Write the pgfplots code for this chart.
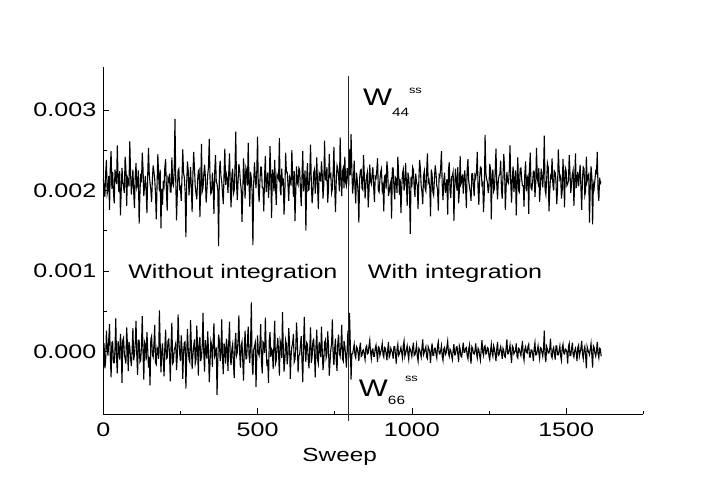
\documentclass[border=0pt]{standalone}
\usepackage{fontspec}
\setmainfont{Liberation Sans}[FakeStretch=1.28]
\usepackage{pgfplots}
\usepackage{pgfplotstable}
\pgfplotsset{compat=1.18}

\newcommand{\lbl}{\fontsize{19.6}{23}\selectfont}

% W44^ss, units of 1e-4, one value every 2.5 sweeps
\pgfplotstableread[row sep=\\]{y\\
21.5\\ 20.4\\ 19.2\\ 22.1\\ 23.8\\ 19.6\\ 20.1\\ 21.8\\ 17.6\\ 22.9\\ 24.9\\ 20.2\\ 22.3\\ 19.9\\ 18.4\\ 22.6\\ 21.7\\ 20.8\\ 25.6\\ 21.3\\ 19.8\\ 22.4\\ 16.9\\ 20.0\\ 22.8\\ 21.1\\ 20.4\\ 19.7\\ 24.2\\ 22.8\\ 18.1\\ 21.6\\ 21.3\\ 20.5\\ 26.1\\ 22.2\\ 19.5\\ 20.9\\ 22.6\\ 19.8\\
17.8\\ 21.7\\ 23.4\\ 20.3\\ 20.7\\ 22.5\\ 15.9\\ 19.5\\ 22.1\\ 21.0\\ 24.7\\ 22.7\\ 19.3\\ 20.6\\ 21.8\\ 19.9\\ 17.2\\ 21.9\\ 25.3\\ 22.0\\ 20.9\\ 20.1\\ 18.6\\ 21.4\\ 23.1\\ 22.3\\ 21.4\\ 19.6\\ 16.4\\ 20.7\\ 24.5\\ 21.8\\ 19.9\\ 22.6\\ 15.3\\ 20.2\\ 18.2\\ 21.2\\ 20.6\\ 22.9\\
23.9\\ 20.0\\ 17.5\\ 21.5\\ 21.2\\ 22.1\\ 19.8\\ 19.8\\ 24.1\\ 20.9\\ 20.6\\ 22.4\\ 28.9\\ 21.3\\ 16.3\\ 19.7\\ 22.5\\ 22.7\\ 20.2\\ 20.4\\ 18.7\\ 21.6\\ 25.1\\ 22.2\\ 21.6\\ 19.9\\ 14.2\\ 20.8\\ 23.6\\ 22.5\\ 19.4\\ 21.0\\ 22.9\\ 20.3\\ 17.3\\ 21.9\\ 24.8\\ 22.8\\ 20.5\\ 19.6\\
18.9\\ 21.2\\ 22.4\\ 22.6\\ 16.7\\ 20.5\\ 25.8\\ 19.9\\ 20.3\\ 22.0\\ 23.2\\ 21.7\\ 18.5\\ 20.1\\ 21.9\\ 22.9\\ 26.4\\ 21.4\\ 19.6\\ 19.8\\ 22.2\\ 20.6\\ 17.1\\ 22.3\\ 24.4\\ 21.1\\ 20.8\\ 20.0\\ 13.1\\ 22.4\\ 23.7\\ 21.8\\ 21.1\\ 19.7\\ 18.3\\ 22.1\\ 25.2\\ 20.7\\ 22.0\\ 21.5\\
19.7\\ 22.2\\ 24.6\\ 20.4\\ 17.9\\ 21.9\\ 22.7\\ 19.6\\ 20.0\\ 22.7\\ 27.3\\ 20.9\\ 18.8\\ 21.3\\ 23.3\\ 22.5\\ 21.0\\ 20.2\\ 16.1\\ 19.7\\ 24.0\\ 21.6\\ 19.0\\ 22.8\\ 22.4\\ 20.6\\ 25.9\\ 21.0\\ 18.0\\ 22.3\\ 21.5\\ 19.9\\ 13.2\\ 20.8\\ 23.5\\ 21.7\\ 20.3\\ 22.4\\ 26.7\\ 20.1\\
18.6\\ 21.1\\ 22.9\\ 22.9\\ 20.4\\ 20.3\\ 17.4\\ 21.8\\ 24.3\\ 19.8\\ 21.2\\ 22.2\\ 19.1\\ 20.7\\ 25.5\\ 21.5\\ 16.6\\ 22.6\\ 22.0\\ 19.9\\ 23.8\\ 20.5\\ 18.2\\ 22.0\\ 21.7\\ 21.4\\ 26.5\\ 20.1\\ 19.4\\ 22.7\\ 20.9\\ 21.2\\ 17.0\\ 19.6\\ 24.7\\ 22.3\\ 22.3\\ 20.8\\ 18.7\\ 21.7\\
21.4\\ 20.6\\ 25.0\\ 21.9\\ 19.2\\ 22.4\\ 16.2\\ 19.7\\ 23.0\\ 21.0\\ 20.7\\ 22.8\\ 22.6\\ 20.2\\ 18.1\\ 21.6\\ 24.9\\ 19.9\\ 21.1\\ 22.5\\ 15.0\\ 21.3\\ 23.4\\ 20.0\\ 20.1\\ 22.1\\ 25.7\\ 20.9\\ 18.4\\ 19.8\\ 22.2\\ 22.6\\ 19.6\\ 21.5\\ 24.1\\ 20.4\\ 17.7\\ 22.2\\ 21.9\\ 21.1\\
23.6\\ 22.0\\ 19.0\\ 20.7\\ 26.2\\ 21.4\\ 21.3\\ 22.9\\ 18.5\\ 20.1\\ 24.5\\ 21.8\\ 22.0\\ 19.7\\ 20.2\\ 22.3\\ 25.4\\ 20.5\\ 17.3\\ 21.2\\ 23.1\\ 22.7\\ 21.8\\ 19.9\\ 26.6\\ 21.6\\ 19.3\\ 22.4\\ 22.8\\ 20.3\\ 24.2\\ 21.0\\ 20.6\\ 22.8\\ 21.7\\ 20.6\\ 25.1\\ 21.9\\ 27.0\\ 22.5\\
19.6\\ 21.0\\ 23.7\\ 20.3\\ 18.4\\ 22.2\\ 21.2\\ 19.8\\ 16.0\\ 21.5\\ 22.5\\ 22.6\\ 20.3\\ 20.1\\ 24.4\\ 21.9\\ 19.0\\ 20.7\\ 21.8\\ 22.3\\ 17.9\\ 19.9\\ 23.2\\ 21.2\\ 20.8\\ 22.0\\ 22.9\\ 20.4\\ 18.6\\ 21.7\\ 21.5\\ 22.5\\ 24.0\\ 20.0\\ 19.8\\ 21.3\\ 22.3\\ 22.7\\ 20.1\\ 20.6\\
17.4\\ 21.8\\ 21.9\\ 20.2\\ 23.6\\ 22.4\\ 19.3\\ 19.9\\ 20.7\\ 21.1\\ 16.5\\ 22.8\\ 22.8\\ 20.5\\ 18.9\\ 21.6\\ 21.4\\ 19.7\\ 24.2\\ 22.1\\ 19.5\\ 21.4\\ 17.2\\ 20.3\\ 22.1\\ 22.6\\ 20.0\\ 20.8\\ 23.4\\ 21.0\\ 18.1\\ 22.2\\ 21.6\\ 19.8\\ 14.6\\ 21.7\\ 20.4\\ 22.9\\ 22.6\\ 20.4\\
19.2\\ 22.1\\ 21.0\\ 20.6\\ 17.7\\ 21.3\\ 23.8\\ 22.7\\ 20.5\\ 19.9\\ 18.3\\ 21.8\\ 22.4\\ 20.2\\ 19.9\\ 22.4\\ 24.6\\ 21.0\\ 21.3\\ 20.5\\ 16.8\\ 22.6\\ 22.0\\ 19.8\\ 19.4\\ 21.5\\ 23.1\\ 22.2\\ 20.6\\ 20.1\\ 17.5\\ 21.9\\ 21.7\\ 22.8\\ 24.9\\ 20.7\\ 18.8\\ 21.2\\ 22.2\\ 19.7\\
20.3\\ 21.4\\ 17.0\\ 22.5\\ 23.5\\ 20.0\\ 19.1\\ 21.7\\ 21.8\\ 22.3\\ 16.2\\ 20.4\\ 22.7\\ 21.1\\ 20.0\\ 22.9\\ 18.4\\ 19.9\\ 24.3\\ 20.8\\ 21.1\\ 22.0\\ 19.6\\ 21.6\\ 22.5\\ 20.3\\ 17.8\\ 22.7\\ 23.9\\ 21.2\\ 20.4\\ 19.8\\ 18.7\\ 22.1\\ 22.1\\ 20.6\\ 19.3\\ 21.9\\ 21.6\\ 22.4\\
24.8\\ 20.2\\ 18.2\\ 21.5\\ 22.9\\ 22.8\\ 20.7\\ 20.9\\ 17.3\\ 19.7\\ 26.9\\ 22.2\\ 21.4\\ 21.0\\ 19.7\\ 20.5\\ 23.3\\ 22.6\\ 16.4\\ 21.8\\ 22.6\\ 19.9\\ 20.2\\ 22.4\\ 25.2\\ 20.7\\ 18.9\\ 21.3\\ 21.9\\ 22.0\\ 23.7\\ 20.1\\ 19.0\\ 21.7\\ 24.5\\ 22.9\\ 17.6\\ 20.4\\ 22.3\\ 21.1\\
20.9\\ 22.3\\ 25.6\\ 20.8\\ 18.5\\ 21.6\\ 23.0\\ 19.8\\ 21.2\\ 22.5\\ 16.9\\ 21.2\\ 24.1\\ 20.0\\ 19.8\\ 22.7\\ 22.8\\ 21.4\\ 20.6\\ 20.6\\ 18.0\\ 22.1\\ 23.6\\ 19.9\\ 21.5\\ 21.8\\ 17.1\\ 22.6\\ 24.7\\ 20.3\\ 20.1\\ 21.0\\ 22.4\\ 22.4\\ 19.2\\ 20.9\\ 25.3\\ 21.5\\ 21.0\\ 22.8\\
18.6\\ 20.5\\ 22.7\\ 21.9\\ 20.4\\ 22.2\\ 26.8\\ 20.1\\ 19.5\\ 21.3\\ 23.4\\ 22.9\\ 17.4\\ 19.8\\ 21.8\\ 21.6\\ 24.0\\ 20.7\\ 20.0\\ 22.4\\ 22.2\\ 21.1\\ 18.3\\ 20.2\\ 25.1\\ 22.6\\ 21.4\\ 21.7\\ 19.0\\ 20.0\\ 23.9\\ 21.4\\ 17.9\\ 22.8\\ 22.5\\ 20.6\\ 20.8\\ 21.2\\ 24.4\\ 22.1\\
19.7\\ 20.9\\ 22.0\\ 22.5\\ 18.1\\ 21.0\\ 24.6\\ 20.3\\ 21.3\\ 22.3\\ 20.5\\ 21.8\\ 23.2\\ 20.4\\ 17.6\\ 21.5\\ 22.9\\ 22.7\\ 19.4\\ 19.9\\ 24.2\\ 21.2\\ 21.7\\ 22.0\\ 16.0\\ 20.6\\ 23.0\\ 21.7\\ 15.8\\ 20.8\\ 20.3\\ 21.3\\ 22.4\\ 22.2\\ 24.8\\ 20.0\\ 18.7\\ 21.6\\ 20.9\\ 21.1\\
}\wff

% W66^ss, units of 1e-4
\pgfplotstableread[row sep=\\]{y\\
0.8\\ 0.9\\ -2.1\\ -1.2\\ 2.6\\ 0.4\\ -0.5\\ 1.5\\ 3.4\\ -0.6\\ -3.2\\ 1.1\\ 1.2\\ -1.4\\ -1.4\\ 0.2\\ 4.1\\ -0.8\\ -2.7\\ 1.3\\ 0.3\\ -1.0\\ 2.2\\ 0.6\\ -3.9\\ 1.4\\ 1.7\\ -0.3\\ -0.9\\ -1.5\\ 3.0\\ 0.8\\ -2.4\\ 1.2\\ 0.6\\ -0.9\\ -1.8\\ 0.1\\ 2.9\\ -1.1\\
-0.4\\ 1.0\\ 3.8\\ -0.5\\ -2.9\\ 1.4\\ 1.4\\ -1.3\\ -1.1\\ 0.7\\ 4.4\\ -0.2\\ -3.5\\ 1.2\\ 0.9\\ -1.1\\ 2.4\\ 0.3\\ -2.0\\ -0.7\\ -4.2\\ 1.5\\ 1.9\\ -0.4\\ -0.7\\ 0.9\\ 3.3\\ -1.4\\ -1.6\\ 0.5\\ 0.2\\ -0.9\\ 5.1\\ 1.1\\ -2.6\\ 0.0\\ 1.0\\ -1.2\\ -3.1\\ 0.6\\
2.7\\ -0.9\\ -0.8\\ 1.3\\ 1.5\\ -0.4\\ -3.7\\ 0.8\\ 3.6\\ -1.5\\ -1.3\\ 0.2\\ 0.5\\ 1.0\\ -2.3\\ -0.6\\ 4.6\\ 1.4\\ -0.2\\ -1.2\\ 2.0\\ 0.5\\ -3.4\\ -0.1\\ 1.1\\ 1.2\\ -4.6\\ -0.8\\ 2.8\\ 0.3\\ -1.0\\ -1.3\\ 3.9\\ 0.9\\ -2.2\\ -0.5\\ 0.7\\ 1.5\\ -1.5\\ -1.0\\
3.2\\ 0.4\\ -3.0\\ 1.1\\ 1.8\\ -1.2\\ -0.6\\ 0.7\\ 4.8\\ -0.3\\ -2.5\\ 1.4\\ 0.1\\ -0.9\\ 2.5\\ 0.1\\ -3.8\\ -1.4\\ 1.3\\ 0.8\\ -1.9\\ 1.2\\ 3.5\\ -0.6\\ -0.3\\ 0.5\\ -5.4\\ -1.1\\ 2.1\\ 1.3\\ -1.2\\ -0.2\\ 4.0\\ -0.8\\ -2.8\\ 1.0\\ 0.4\\ -1.5\\ 1.6\\ 0.6\\
-2.4\\ 1.2\\ 3.7\\ -0.8\\ -1.7\\ 0.3\\ 0.9\\ -1.3\\ -3.3\\ 1.0\\ 2.3\\ -0.5\\ -0.1\\ 1.5\\ 4.5\\ -0.1\\ -2.0\\ 0.7\\ 1.2\\ -1.2\\ -3.6\\ 0.4\\ 2.6\\ -0.9\\ -0.9\\ 1.3\\ 3.1\\ -0.4\\ -1.4\\ 0.9\\ 6.1\\ -1.4\\ -2.9\\ 0.2\\ 0.6\\ 1.1\\ -4.4\\ -0.7\\ 2.0\\ -0.2\\
-0.5\\ 0.8\\ 3.4\\ -1.3\\ -2.7\\ 1.2\\ 1.0\\ -0.2\\ 4.2\\ 0.5\\ -1.8\\ -1.0\\ -3.9\\ 1.4\\ 2.4\\ -0.7\\ 0.3\\ 0.1\\ -2.2\\ 1.0\\ 3.8\\ -1.5\\ -1.1\\ 0.6\\ 1.7\\ -0.3\\ -3.0\\ 1.3\\ 0.8\\ -0.8\\ 4.9\\ 0.4\\ -2.5\\ -1.1\\ 1.4\\ 0.9\\ -1.6\\ -0.4\\ 2.9\\ 1.2\\
-3.4\\ -0.6\\ 0.6\\ 1.0\\ 2.2\\ -1.3\\ -1.0\\ 0.3\\ 3.6\\ 1.4\\ -2.6\\ -0.5\\ -0.4\\ 0.7\\ 1.9\\ -1.2\\ -3.8\\ 0.9\\ 4.3\\ -0.1\\ -1.3\\ 1.1\\ 0.9\\ -0.9\\ -2.1\\ 0.5\\ 3.0\\ -1.4\\ -0.7\\ 1.3\\ 1.5\\ -0.3\\ -3.2\\ 0.6\\ 2.7\\ -1.0\\ -1.5\\ 1.2\\ 0.4\\ -0.7\\
3.1\\ 0.2\\ -2.3\\ -1.1\\ 1.1\\ 1.4\\ -0.8\\ -0.4\\ 2.5\\ 0.8\\ -3.0\\ -1.3\\ 0.2\\ 1.0\\ 4.0\\ -0.6\\ -1.7\\ 0.4\\ 1.6\\ -1.2\\ -2.4\\ 1.1\\ 2.1\\ -0.2\\ -0.6\\ 0.7\\ 3.3\\ -0.9\\ -1.2\\ 1.3\\ 0.7\\ -0.5\\ -2.0\\ 0.3\\ 2.6\\ -0.8\\ 4.8\\ 1.0\\ -3.5\\ -0.3\\
-0.3\\ 0.3\\ 0.9\\ -0.5\\ -0.8\\ 0.6\\ 0.4\\ -0.2\\ -1.2\\ 0.4\\ 1.1\\ -0.6\\ -0.5\\ 0.1\\ 0.2\\ -0.4\\ -1.0\\ 0.5\\ 0.7\\ -0.3\\ -0.2\\ 0.7\\ 1.4\\ -0.1\\ -0.9\\ 0.2\\ 0.3\\ -0.6\\ -0.6\\ 0.4\\ 0.8\\ -0.2\\ -1.3\\ 0.6\\ 0.5\\ -0.5\\ -0.1\\ 0.3\\ 1.0\\ -0.4\\
-0.7\\ 0.5\\ 0.4\\ -0.3\\ -1.1\\ 0.2\\ 1.2\\ -0.7\\ -0.4\\ 0.4\\ 0.1\\ -0.1\\ -0.9\\ 0.6\\ 0.6\\ -0.4\\ -1.5\\ 0.3\\ 0.9\\ -0.5\\ -0.3\\ 0.1\\ 0.5\\ -0.2\\ -0.8\\ 0.7\\ 1.3\\ -0.6\\ -0.2\\ 0.2\\ 0.7\\ -0.3\\ -1.0\\ 0.5\\ 0.3\\ -0.1\\ -0.6\\ 0.4\\ 1.1\\ -0.5\\
-0.4\\ 0.1\\ 0.8\\ -0.6\\ -1.2\\ 0.4\\ 0.2\\ -0.2\\ -0.7\\ 0.5\\ 1.5\\ -0.4\\ -0.1\\ 0.3\\ 0.6\\ -0.7\\ -0.9\\ 0.6\\ 0.3\\ -0.1\\ -1.4\\ 0.2\\ 1.0\\ -0.5\\ -0.5\\ 0.4\\ 0.4\\ -0.3\\ -0.8\\ 0.7\\ 1.2\\ -0.2\\ -0.3\\ 0.1\\ 0.7\\ -0.6\\ -1.1\\ 0.3\\ 0.5\\ -0.4\\
-0.2\\ 0.6\\ 1.3\\ -0.2\\ -0.6\\ 0.3\\ 0.1\\ -0.5\\ -1.0\\ 0.1\\ 0.9\\ -0.4\\ -0.4\\ 0.5\\ 0.6\\ -0.3\\ -1.3\\ 0.7\\ 0.3\\ -0.6\\ -0.7\\ 0.2\\ 1.1\\ -0.1\\ -0.1\\ 0.4\\ 0.5\\ -0.5\\ -0.9\\ 0.3\\ 0.8\\ -0.7\\ -1.5\\ 0.6\\ 0.4\\ -0.2\\ -0.3\\ 0.1\\ 1.0\\ -0.3\\
-0.8\\ 0.4\\ 0.2\\ -0.5\\ -1.1\\ 0.2\\ 1.4\\ -0.1\\ -0.5\\ 0.6\\ 0.7\\ -0.3\\ -0.2\\ 0.5\\ 0.4\\ -0.6\\ -1.0\\ 0.1\\ 0.9\\ -0.2\\ -0.6\\ 0.7\\ 0.3\\ -0.4\\ -1.2\\ 0.3\\ 1.2\\ -0.5\\ -0.4\\ 0.2\\ 0.6\\ -0.1\\ -0.9\\ 0.4\\ 0.1\\ -0.6\\ -0.7\\ 0.5\\ 1.5\\ -0.3\\
-0.3\\ 0.2\\ 0.8\\ -0.4\\ -1.4\\ 0.7\\ 0.5\\ -0.3\\ -0.1\\ 0.1\\ 1.0\\ -0.6\\ -0.8\\ 0.4\\ 0.3\\ -0.2\\ -0.5\\ 0.5\\ 1.3\\ -0.5\\ -1.1\\ 0.3\\ 0.6\\ -0.1\\ -0.2\\ 0.6\\ 0.9\\ -0.7\\ -0.7\\ 0.2\\ 0.2\\ -0.3\\ -1.2\\ 0.4\\ 1.1\\ -0.4\\ -0.4\\ 0.1\\ 0.7\\ -0.2\\
-0.9\\ 0.5\\ 0.4\\ -0.1\\ -0.6\\ 0.3\\ 2.6\\ -0.6\\ -1.3\\ 0.6\\ 0.3\\ -0.2\\ -0.2\\ 0.4\\ 1.6\\ -0.5\\ -0.8\\ 0.2\\ 0.5\\ -0.3\\ -1.0\\ 0.7\\ 0.7\\ -0.4\\ -0.4\\ 0.1\\ 0.7\\ -0.6\\ -1.1\\ 0.5\\ 0.9\\ -0.2\\ -0.3\\ 0.3\\ 0.2\\ -0.1\\ -1.5\\ 0.6\\ 1.0\\ -0.5\\
-0.5\\ 0.3\\ 1.1\\ -0.4\\ -0.7\\ 0.1\\ 0.4\\ -0.2\\ -1.2\\ 0.5\\ 0.8\\ -0.6\\ -0.1\\ 0.4\\ 1.3\\ -0.3\\ -0.9\\ 0.2\\ 0.6\\ -0.5\\ -2.1\\ 0.6\\ 0.2\\ -0.1\\ -0.4\\ 0.3\\ 1.0\\ -0.4\\ -2.0\\ 0.7\\ 0.5\\ -0.2\\ -0.6\\ 0.1\\ 1.2\\ -0.3\\ -0.8\\ 0.4\\ 0.3\\ -0.6\\
}\wss

\begin{document}
\begin{tikzpicture}
\path[use as bounding box] (-103.3pt,-75.7pt) rectangle (605.7pt,414.3pt);
\begin{axis}[
    scale only axis,
    width=540pt,
    height=347pt,
    xmin=0, xmax=1750,
    ymin=-7.8, ymax=35.3,
    axis lines*=left,
    axis line style={line width=0.8pt},
    xtick={0,500,1000,1500},
    xticklabels={0,500,1000,1500},
    minor xtick={250,750,1250,1750},
    ytick={0,10,20,30},
    yticklabels={0.000,0.001,0.002,0.003},
    minor ytick={5,15,25},
    tick align=inside,
    major tick length=6pt,
    minor tick length=3.5pt,
    tick style={black, line width=0.7pt},
    ticklabel style={font=\lbl},
    xticklabel style={yshift=-5pt},
    yticklabel style={xshift=-3.5pt},
    clip=false,
]
\addplot[black, line width=1.1pt] table[x expr=\coordindex*2.525, y=y] {\wff};
\addplot[black, line width=1.1pt] table[x expr=\coordindex*2.525, y=y] {\wss};
\addplot[black!85, line width=0.8pt] coordinates {(795,-8.6) (795,34.2)};

\node[anchor=base, font=\lbl] at (axis cs:420,9.03) {Without integration};
\node[anchor=base, font=\lbl] at (axis cs:1140,9.03) {With integration};
\node[anchor=base west, inner sep=0pt] at (axis cs:841,30.5)
  {{\fontsize{24}{24}\selectfont W}\raisebox{-10.7pt}{\fontsize{12}{12}\selectfont 44}\raisebox{12.7pt}{\fontsize{10}{10}\selectfont ss}};
\node[anchor=base west, inner sep=0pt] at (axis cs:828,-5.6)
  {{\fontsize{24}{24}\selectfont W}\raisebox{-8.3pt}{\fontsize{12}{12}\selectfont 66}\raisebox{14.7pt}{\fontsize{10}{10}\selectfont ss}};
\node[anchor=base, font=\fontsize{19}{22}\selectfont] at (axis cs:766,-13.7) {Sweep};
\end{axis}
\end{tikzpicture}
\end{document}
